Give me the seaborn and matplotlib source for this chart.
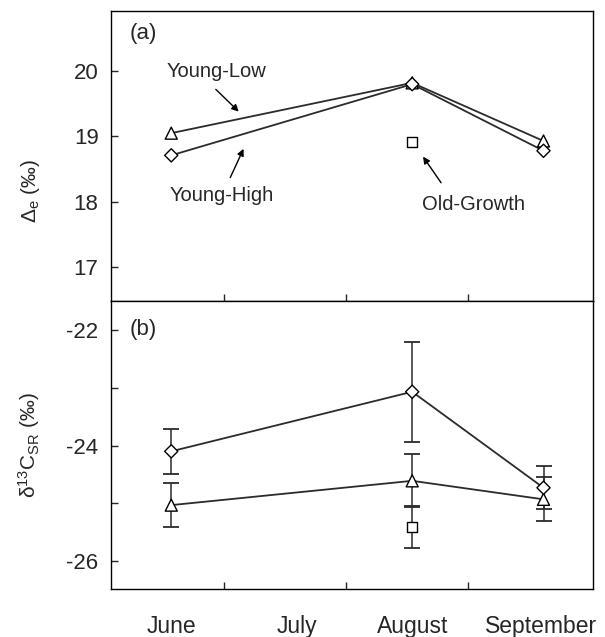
import matplotlib
matplotlib.use("Agg")
import matplotlib.pyplot as plt
import seaborn as sns
import pandas as pd
import numpy as np

# ---------------- data ----------------
months = ["June", "July", "August", "September"]
month_label_x = [0.0, 1.04, 2.0, 3.07]
sample_x = [0.0, 2.0, 3.09]          # June, August, September sampling dates
old_x = [2.0]                         # Old-Growth sampled in August only
boundary_ticks = [0.44, 1.45, 2.46]   # month-boundary tick marks

# (a) Delta_e (permil)
de_young_low = [19.05, 19.82, 18.93]
de_young_high = [18.71, 19.80, 18.78]
de_old_growth = [18.91]

# (b) delta13C_SR (permil) with error bars
sr_young_low = [-25.03, -24.61, -24.93]
sr_young_low_err = [0.38, 0.46, 0.38]
sr_young_high = [-24.10, -23.07, -24.73]
sr_young_high_err = [0.39, 0.86, 0.37]
sr_old_growth = [-25.41]
sr_old_growth_err = [0.37]

groups = ["Young-Low", "Young-High", "Old-Growth"]

# ---------------- style ----------------
sns.set_style("white")
plt.rcParams["font.family"] = ["Liberation Sans", "DejaVu Sans"]
plt.rcParams["mathtext.fontset"] = "custom"
plt.rcParams["mathtext.rm"] = "Liberation Sans"
plt.rcParams["mathtext.it"] = "Liberation Sans:italic"
plt.rcParams["mathtext.bf"] = "Liberation Sans:bold"

LINE = "#2b2b2b"
markers = {"Young-Low": "^", "Young-High": "D", "Old-Growth": "s"}
msizes = {"Young-Low": 75, "Young-High": 45, "Old-Growth": 50}

def frame(xs, ys, errs=None):
    rows = []
    for g, x, y, e in zip(groups, xs, ys, errs if errs else [None] * 3):
        for i in range(len(x)):
            rows.append({"x": x[i], "y": y[i], "group": g,
                         "err": (e[i] if e is not None else 0.0)})
    return pd.DataFrame(rows)

df_a = frame([sample_x, sample_x, old_x], [de_young_low, de_young_high, de_old_growth])
df_b = frame([sample_x, sample_x, old_x], [sr_young_low, sr_young_high, sr_old_growth],
             [sr_young_low_err, sr_young_high_err, sr_old_growth_err])

fig = plt.figure(figsize=(6.05, 6.37), dpi=100)
ax1 = fig.add_axes([0.1835, 0.5275, 0.7965, 0.4552])
ax2 = fig.add_axes([0.1835, 0.0754, 0.7965, 0.4521])

def draw(ax, df, with_err):
    if with_err:
        for g in groups:
            d = df[df.group == g]
            ax.errorbar(d.x, d.y, yerr=d.err, fmt="none", ecolor=LINE,
                        elinewidth=1.1, capsize=6, capthick=1.3, zorder=1)
    lines = df[df.group != "Old-Growth"]
    sns.lineplot(data=lines, x="x", y="y", units="group", estimator=None,
                 color=LINE, lw=1.3, ax=ax, legend=False, zorder=2, sort=True)
    sns.scatterplot(data=df, x="x", y="y", style="group", markers=markers,
                    size="group", sizes=msizes, facecolor="white",
                    edgecolor="black", linewidth=1.0, ax=ax, legend=False,
                    zorder=3)

draw(ax1, df_a, False)
draw(ax2, df_b, True)

for ax in (ax1, ax2):
    ax.set_xlim(-0.5, 3.5)
    ax.set_xlabel("")
    ax.set_ylabel("")
    for s in ax.spines.values():
        s.set_visible(True)
        s.set_color("black")
        s.set_linewidth(1.0)
    ax.set_xticks(boundary_ticks)
    ax.tick_params(axis="x", which="major", direction="in", length=5,
                   width=1, labelbottom=False, bottom=True)
    ax.tick_params(axis="y", which="both", direction="in", length=5,
                   width=1, left=True, labelsize=16, pad=9)

ax1.set_ylim(16.48, 20.92)
ax1.set_yticks([17, 18, 19, 20])
ax1.set_yticklabels(["17", "18", "19", "20"])

ax2.set_ylim(-26.48, -21.5)
ax2.set_yticks([-26, -24, -22])
ax2.set_yticklabels(["-26", "-24", "-22"])
ax2.set_yticks([-25, -23], minor=True)
ax2.set_xticks(month_label_x, months, minor=True)
ax2.tick_params(axis="x", which="minor", length=0, labelsize=16.5, pad=19,
                labelbottom=True)

ax1.set_ylabel(r"$\Delta_{\rm e}$ (‰)", fontsize=15)
ax1.yaxis.set_label_coords(-0.143, 0.38)
ax2.set_ylabel(r"δ$^{13}$C$_{\rm SR}$ (‰)", fontsize=15)
ax2.yaxis.set_label_coords(-0.143, 0.50)

ax1.text(0.039, 0.924, "(a)", transform=ax1.transAxes, fontsize=16,
         ha="left", va="center")
ax2.text(0.039, 0.90, "(b)", transform=ax2.transAxes, fontsize=16,
         ha="left", va="center")

arrow = dict(arrowstyle="-|>", color="black", lw=1.0, mutation_scale=10,
             shrinkA=0, shrinkB=0)
ax1.text(-0.04, 20.0, "Young-Low", fontsize=14.5, ha="left", va="center")
ax1.annotate("", xy=(0.56, 19.38), xytext=(0.37, 19.72), arrowprops=arrow)
ax1.text(-0.01, 18.09, "Young-High", fontsize=14.5, ha="left", va="center")
ax1.annotate("", xy=(0.60, 18.81), xytext=(0.49, 18.37), arrowprops=arrow)
ax1.text(2.08, 17.95, "Old-Growth", fontsize=14.5, ha="left", va="center")
ax1.annotate("", xy=(2.09, 18.69), xytext=(2.24, 18.29), arrowprops=arrow)

fig.savefig("out.png", dpi=100)
